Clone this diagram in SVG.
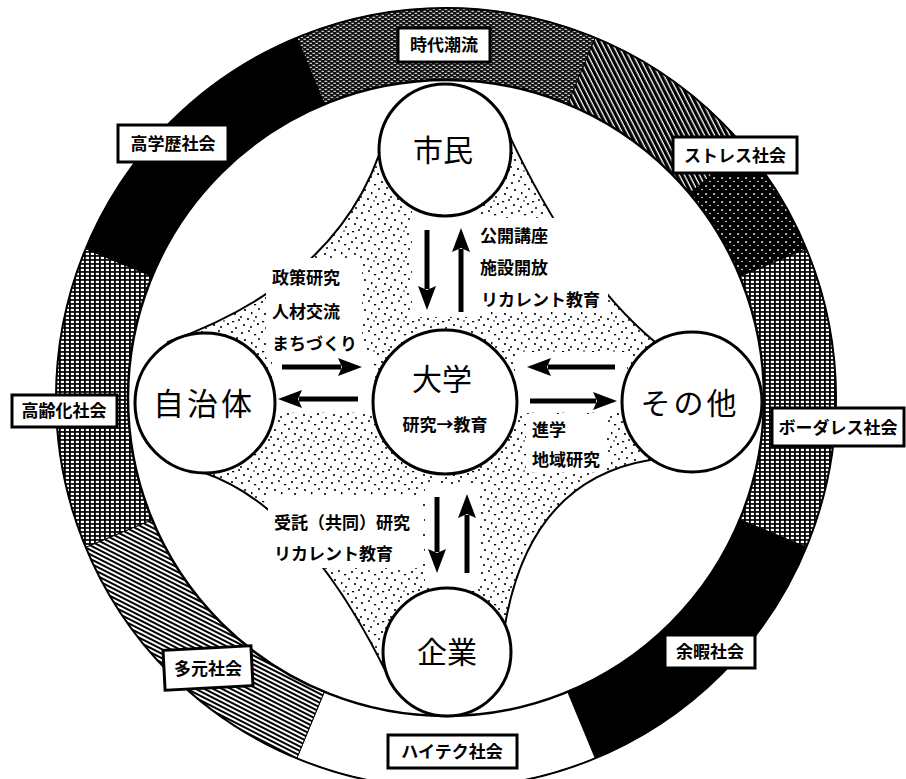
<svg xmlns="http://www.w3.org/2000/svg" width="906" height="779" viewBox="0 0 906 779">
<style>
  .seg { stroke:#000; stroke-width:1; }
  .lbl rect { fill:#fff; stroke:#000; stroke-width:3; }
  .lbl text { font-family:"Noto Sans CJK JP","Noto Sans CJK SC",sans-serif; font-size:17px; font-weight:700; text-anchor:middle; fill:#000; }
  .node circle { fill:#fff; stroke:#000; stroke-width:3; }
  .node text { font-family:"Noto Sans CJK JP","Noto Sans CJK SC",sans-serif; font-size:30px; font-weight:400; text-anchor:middle; fill:#000; }
  .t { font-family:"Noto Sans CJK JP","Noto Sans CJK SC",sans-serif; font-size:17px; font-weight:700; fill:#000; }
  .arrow { stroke:#000; stroke-width:5; fill:none; marker-end:url(#ah); }
  .wb { fill:#fff; }
</style>
<defs>
  <pattern id="hatchTop" width="6" height="4" patternUnits="userSpaceOnUse">
    <rect width="6" height="4" fill="#111"/>
    <rect x="0.5" y="0.8" width="2.6" height="1" fill="#fff"/>
    <rect x="3.5" y="2.8" width="2.4" height="1" fill="#fff"/>
  </pattern>
  <pattern id="stripes" width="4.5" height="10" patternUnits="userSpaceOnUse" patternTransform="rotate(-27)">
    <rect width="4.5" height="10" fill="#fff"/>
    <rect width="3.2" height="10" fill="#000"/>
  </pattern>
  <pattern id="darkdots" width="8" height="8" patternUnits="userSpaceOnUse">
    <rect width="8" height="8" fill="#000"/>
    <circle cx="2" cy="2" r="0.9" fill="#fff"/>
    <circle cx="6" cy="5.5" r="0.8" fill="#fff"/>
  </pattern>
  <pattern id="mesh" width="5" height="4" patternUnits="userSpaceOnUse">
    <rect width="5" height="4" fill="#000"/>
    <rect x="0.8" y="0.8" width="3.2" height="2.3" fill="#fff"/>
  </pattern>
  <pattern id="lines" width="10" height="4" patternUnits="userSpaceOnUse" patternTransform="rotate(27)">
    <rect width="10" height="4" fill="#fff"/>
    <rect width="10" height="2" fill="#000"/>
  </pattern>
  <pattern id="stipple" width="30" height="30" patternUnits="userSpaceOnUse">
    <circle cx="2" cy="3" r="1.1"/>
    <circle cx="9" cy="1" r="1"/>
    <rect x="14" y="4" width="2.2" height="1.3"/>
    <circle cx="22" cy="2" r="1.1"/>
    <circle cx="27" cy="8" r="1"/>
    <circle cx="5" cy="10" r="1.1"/>
    <rect x="11" y="12" width="1.4" height="2.2"/>
    <circle cx="19" cy="9" r="1"/>
    <circle cx="25" cy="14" r="1.1"/>
    <circle cx="1" cy="17" r="1"/>
    <circle cx="8" cy="19" r="1.1"/>
    <circle cx="16" cy="17" r="1"/>
    <rect x="22" y="21" width="2.2" height="1.3"/>
    <circle cx="29" cy="20" r="1"/>
    <circle cx="4" cy="25" r="1.1"/>
    <circle cx="11" cy="27" r="1"/>
    <circle cx="18" cy="24" r="1.1"/>
    <circle cx="26" cy="28" r="1"/>
    <circle cx="14" cy="21" r="0.8"/>
  </pattern>
  <marker id="ah" markerUnits="userSpaceOnUse" markerWidth="26" markerHeight="20" refX="3" refY="10" orient="auto">
    <path d="M0,1 L24,10 L0,19 L4,10 Z" fill="#000"/>
  </marker>
</defs>

<!-- outer ring -->
<g id="ring">
  <path class="seg" fill="url(#hatchTop)" d="M296.75,37.69 A390,390 0 0 1 595.25,37.69 L567.69,104.21 A318,318 0 0 0 324.31,104.21 Z"/>
  <path class="seg" fill="url(#stripes)" d="M595.25,37.69 A390,390 0 0 1 744.8,147.3 L689.6,193.6 A318,318 0 0 0 567.69,104.21 Z"/>
  <path class="seg" fill="url(#darkdots)" d="M744.8,147.3 A390,390 0 0 1 806.31,248.75 L739.79,276.31 A318,318 0 0 0 689.6,193.6 Z"/>
  <path class="seg" fill="url(#mesh)" d="M806.31,248.75 A390,390 0 0 1 806.31,547.25 L739.79,519.69 A318,318 0 0 0 739.79,276.31 Z"/>
  <path class="seg" fill="#000" d="M806.31,547.25 A390,390 0 0 1 595.25,758.31 L567.69,691.79 A318,318 0 0 0 739.79,519.69 Z"/>
  <path class="seg" fill="#fff" d="M595.25,758.31 A390,390 0 0 1 296.75,758.31 L324.31,691.79 A318,318 0 0 0 567.69,691.79 Z"/>
  <path class="seg" fill="url(#lines)" d="M296.75,758.31 A390,390 0 0 1 85.69,547.25 L152.21,519.69 A318,318 0 0 0 324.31,691.79 Z"/>
  <path class="seg" fill="url(#mesh)" d="M85.69,547.25 A390,390 0 0 1 85.69,248.75 L152.21,276.31 A318,318 0 0 0 152.21,519.69 Z"/>
  <path class="seg" fill="#000" d="M85.69,248.75 A390,390 0 0 1 296.75,37.69 L324.31,104.21 A318,318 0 0 0 152.21,276.31 Z"/>
  <circle cx="446" cy="398" r="390" fill="none" stroke="#000" stroke-width="2"/>
  <circle cx="446" cy="398" r="318" fill="#fff" stroke="#000" stroke-width="2.5"/>
</g>

<!-- stippled star -->
<g id="star">
  <path d="M390,115 Q358,274 168,342 L205,473 Q305,508.5 385,670 L505,625 Q530,480 650,460 L655,342 Q570,271.5 500,115 Z" fill="url(#stipple)" stroke="#000" stroke-width="2"/>
  <rect class="wb" x="412" y="205" width="66" height="112"/>
  <rect class="wb" x="476" y="218" width="132" height="94"/>
  <rect class="wb" x="266" y="258" width="96" height="100"/>
  <rect class="wb" x="272" y="352" width="102" height="60"/>
  <rect class="wb" x="515" y="352" width="112" height="60"/>
  <rect class="wb" x="526" y="414" width="80" height="58"/>
  <rect class="wb" x="268" y="495" width="155" height="73"/>
  <rect class="wb" x="425" y="484" width="55" height="104"/>
</g>

<!-- texts on the star -->
<g id="texts">
  <text class="t" x="272" y="284">政策研究</text>
  <text class="t" x="272" y="318">人材交流</text>
  <text class="t" x="272" y="350">まちづくり</text>
  <text class="t" x="480" y="242">公開講座</text>
  <text class="t" x="480" y="274">施設開放</text>
  <text class="t" x="481" y="306">リカレント教育</text>
  <text class="t" x="532" y="436">進学</text>
  <text class="t" x="532" y="466">地域研究</text>
  <text class="t" x="274" y="529">受託（共同）研究</text>
  <text class="t" x="274" y="560">リカレント教育</text>
</g>

<!-- connectors -->
<g id="connectors">
  <line class="arrow" x1="427" y1="230" x2="427" y2="289"/>
  <line class="arrow" x1="461" y1="312" x2="461" y2="249"/>
  <line class="arrow" x1="282" y1="367" x2="341" y2="367"/>
  <line class="arrow" x1="358" y1="399" x2="299" y2="399"/>
  <line class="arrow" x1="615" y1="367" x2="548" y2="367"/>
  <line class="arrow" x1="530" y1="401" x2="596" y2="401"/>
  <line class="arrow" x1="437" y1="497" x2="437" y2="552"/>
  <line class="arrow" x1="467" y1="573" x2="467" y2="515"/>
</g>

<!-- nodes -->
<g id="node-shimin" class="node">
  <circle cx="445" cy="150" r="66"/>
  <text x="443" y="161">市民</text>
</g>
<g id="node-jichitai" class="node">
  <circle cx="205" cy="403" r="70"/>
  <text x="204" y="415" style="font-size:31px;letter-spacing:3px">自治体</text>
</g>
<g id="node-daigaku" class="node">
  <circle cx="445" cy="402" r="72"/>
  <text x="442" y="390">大学</text>
  <text x="445" y="431" style="font-size:17px;font-weight:700">研究→教育</text>
</g>
<g id="node-sonota" class="node">
  <circle cx="692" cy="402" r="70"/>
  <text x="690" y="414" style="letter-spacing:3px">その他</text>
</g>
<g id="node-kigyo" class="node">
  <circle cx="447" cy="652" r="64"/>
  <text x="447" y="663">企業</text>
</g>

<!-- ring labels -->
<g id="lbl-jidai" class="lbl"><rect x="398" y="28" width="92" height="34"/><text x="444" y="51">時代潮流</text></g>
<g id="lbl-kogakureki" class="lbl"><rect x="118" y="125" width="110" height="37"/><text x="173" y="150">高学歴社会</text></g>
<g id="lbl-stress" class="lbl"><rect x="673" y="137" width="124" height="36"/><text x="735" y="162">ストレス社会</text></g>
<g id="lbl-koreika" class="lbl"><rect x="12" y="395" width="105" height="32"/><text x="64" y="417">高齢化社会</text></g>
<g id="lbl-borderless" class="lbl"><rect x="772" y="408" width="132" height="38"/><text x="838" y="434">ボーダレス社会</text></g>
<g id="lbl-tagen" class="lbl"><rect x="164" y="648" width="88" height="40" transform="rotate(-3 208 668)"/><text x="208" y="675">多元社会</text></g>
<g id="lbl-yoka" class="lbl"><rect x="665" y="635" width="90" height="33"/><text x="710" y="658">余暇社会</text></g>
<g id="lbl-hightech" class="lbl"><rect x="388" y="735" width="129" height="33"/><text x="452" y="758">ハイテク社会</text></g>
</svg>
